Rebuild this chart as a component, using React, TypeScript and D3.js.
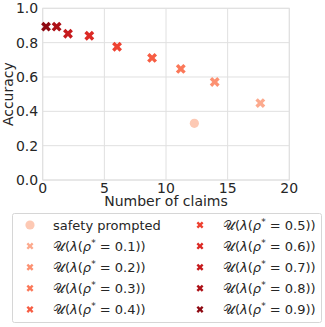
import React from "react";
import * as d3 from "d3";

// values
const rhoLevels = [0.1, 0.2, 0.3, 0.4, 0.5, 0.6, 0.7, 0.8, 0.9];
const claims = [17.65, 13.95, 11.2, 8.87, 6.03, 3.78, 2.05, 1.13, 0.27];
const accuracy = [0.448, 0.571, 0.647, 0.711, 0.776, 0.84, 0.852, 0.893, 0.893];
const promptedClaims = 12.3;
const promptedAccuracy = 0.33;
const xTicks = [0, 5, 10, 15, 20];
const yTicks = [0, 0.2, 0.4, 0.6, 0.8, 1.0];

const W = 325;
const H = 327;
const margin = { top: 8.3, right: 35.7, bottom: 147, left: 42.7 };
const font = "DejaVu Sans, sans-serif";
const textColor = "#262626";
const gridColor = "#e0e0e0";

const redFor = (i: number) => d3.interpolateReds(0.3 + i * 0.0775);
const promptedColor = d3.interpolateReds(0.2);

// filled "X" marker like matplotlib's, as a custom d3 symbol type
const symbolBigX = {
  draw(ctx: any, size: number) {
    const s = Math.sqrt(size);
    const a = s * 0.17;
    const b = s * 0.53;
    const pts = [
      [-a, -b], [a, -b], [a, -a], [b, -a], [b, a], [a, a],
      [a, b], [-a, b], [-a, a], [-b, a], [-b, -a], [-a, -a],
    ];
    const c = Math.SQRT1_2;
    pts.forEach(([x, y], i) => {
      const rx = (x - y) * c;
      const ry = (x + y) * c;
      if (i === 0) ctx.moveTo(rx, ry);
      else ctx.lineTo(rx, ry);
    });
    ctx.closePath();
  },
};

const MathLabel = ({ x, y, rho }: { x: number; y: number; rho: number }) => (
  <text x={x} y={y} fontFamily={font} fontSize={13} fill={textColor}>
    <tspan>𝒰(</tspan>
    <tspan fontStyle="italic">λ</tspan>
    <tspan>(</tspan>
    <tspan fontStyle="italic">ρ</tspan>
    <tspan dy={-5} fontSize={9}>*</tspan>
    <tspan dy={5}>{` = ${rho.toFixed(1)}))`}</tspan>
  </text>
);

export default function App() {
  const iw = W - margin.left - margin.right;
  const ih = H - margin.top - margin.bottom;
  const x = d3.scaleLinear().domain([0, 20]).range([0, iw]);
  const y = d3.scaleLinear().domain([0, 1]).range([ih, 0]);
  const bigX = d3.symbol(symbolBigX as any, 100)() || "";
  const smallX = d3.symbol(symbolBigX as any, 50)() || "";

  const legendRows = [0, 1, 2, 3, 4].map((r) => 229.5 + r * 21.1);

  return (
    <svg
      width={W}
      height={H}
      style={{ position: "absolute", left: 0, top: 0, background: "#fff" }}
    >
      <g transform={`translate(${margin.left},${margin.top})`}>
        {xTicks.map((t) => (
          <line key={"gx" + t} x1={x(t)} x2={x(t)} y1={0} y2={ih} stroke={gridColor} />
        ))}
        {yTicks.map((t) => (
          <line key={"gy" + t} x1={0} x2={iw} y1={y(t)} y2={y(t)} stroke={gridColor} />
        ))}
        <rect x={0} y={0} width={iw} height={ih} fill="none" stroke={gridColor} />
        {xTicks.map((t) => (
          <text
            key={"tx" + t}
            x={x(t)}
            y={ih + 13}
            textAnchor="middle"
            fontFamily={font}
            fontSize={14}
            fill={textColor}
          >
            {t}
          </text>
        ))}
        {yTicks.map((t) => (
          <text
            key={"ty" + t}
            x={-4.5}
            y={y(t) + 5}
            textAnchor="end"
            fontFamily={font}
            fontSize={14}
            fill={textColor}
          >
            {t.toFixed(1)}
          </text>
        ))}
        <text
          x={iw / 2}
          y={ih + 26.5}
          textAnchor="middle"
          fontFamily={font}
          fontSize={14}
          fill={textColor}
        >
          Number of claims
        </text>
        <text
          transform={`translate(${-29.5},${ih / 2}) rotate(-90)`}
          textAnchor="middle"
          fontFamily={font}
          fontSize={14}
          fill={textColor}
        >
          Accuracy
        </text>
        <circle cx={x(promptedClaims)} cy={y(promptedAccuracy)} r={4.6} fill={promptedColor} />
        {claims.map((c, i) => (
          <path
            key={"p" + i}
            d={bigX}
            transform={`translate(${x(c)},${y(accuracy[i])})`}
            fill={redFor(i)}
          />
        ))}
      </g>

      <rect x={12.5} y={213.5} width={309} height={109} rx={2} fill="#fff" stroke="#d6d6d6" />
      <circle cx={30} cy={legendRows[0] - 4.5} r={4.6} fill={promptedColor} />
      <text x={53} y={legendRows[0]} fontFamily={font} fontSize={13} fill={textColor}>
        safety prompted
      </text>
      {rhoLevels.map((rho, i) => {
        const slot = i + 1;
        const col = slot < 5 ? 0 : 1;
        const row = slot % 5;
        const mx = col === 0 ? 30 : 200;
        const ty = legendRows[row];
        return (
          <g key={"l" + rho}>
            <path d={smallX} transform={`translate(${mx},${ty - 4.5})`} fill={redFor(i)} />
            <MathLabel x={mx + 23} y={ty} rho={rho} />
          </g>
        );
      })}
    </svg>
  );
}
